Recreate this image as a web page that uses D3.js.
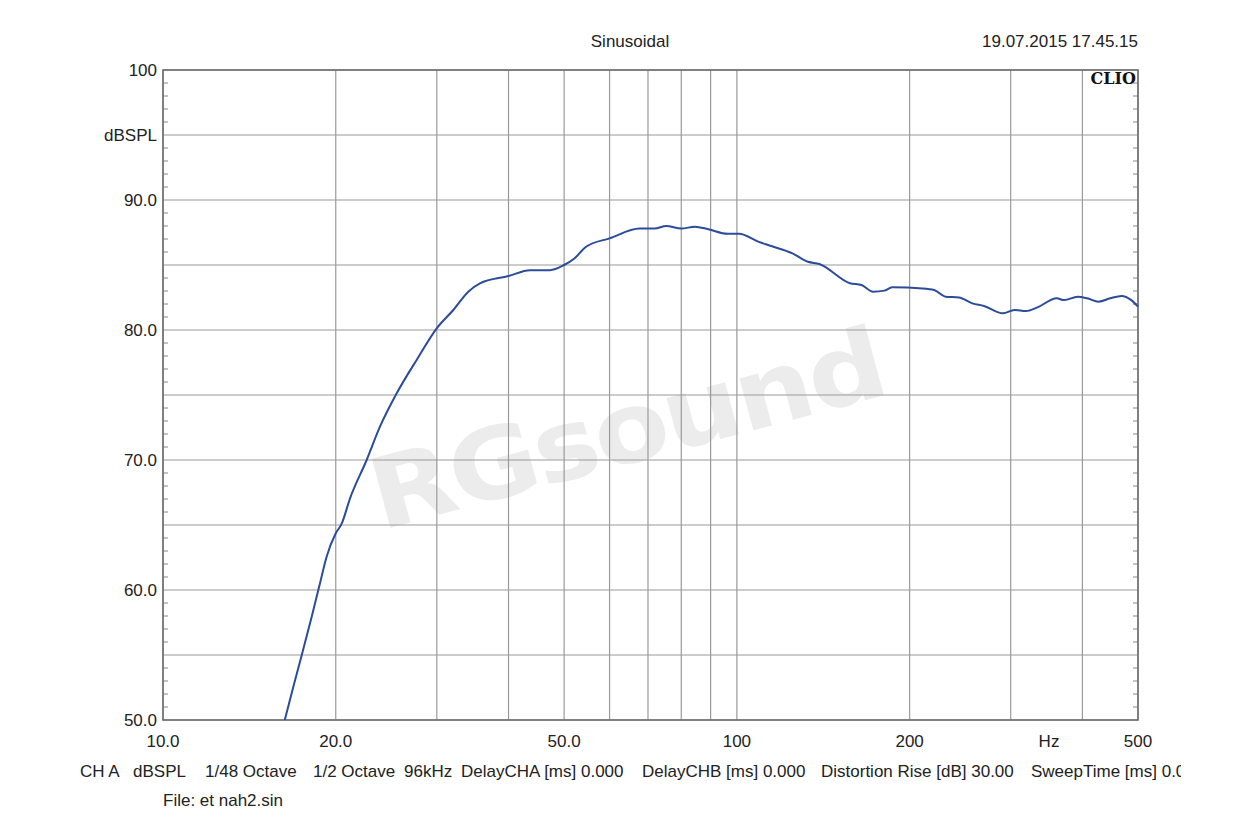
<!DOCTYPE html>
<html><head><meta charset="utf-8">
<script src="https://cdn.jsdelivr.net/npm/d3@7"></script>
<style>
body{margin:0;background:#fff;}
svg text{font-family:"Liberation Sans",Arial,sans-serif;fill:#222;}
</style></head>
<body>
<svg id="c" width="1260" height="840"></svg>
<script>
// ---- data ----
const freqs = [16.3,16.87,17.45,18.16,18.77,19.28,20.0,20.48,21.18,22.64,23.88,25.54,27.67,29.99,32.05,34.04,35.67,40.0,43.6,47.25,50,52.1,54.6,60,67.7,71.9,75.3,80,84.5,89.2,96.3,100.9,108.9,114,125,133,139.2,157.4,164.9,172.7,180.7,186.4,210.8,220.7,231.1,243.8,257.3,269.5,290.9,304.5,319,334,360.7,372,392.6,407.7,427,447.3,468.3,486.7,500];
const spl = [50.0,52.56,55.0,57.95,60.5,62.56,64.36,65.1,67.05,70.0,72.56,75.13,77.7,80.13,81.54,82.95,83.59,84.15,84.6,84.6,85.0,85.5,86.4,87.05,87.8,87.8,88.0,87.8,87.95,87.75,87.4,87.4,86.8,86.5,85.9,85.25,85.08,83.6,83.46,82.95,83.03,83.28,83.2,83.08,82.56,82.5,82.05,81.85,81.28,81.54,81.46,81.74,82.44,82.3,82.56,82.44,82.18,82.44,82.62,82.3,81.8];
const xGrid = [10,20,30,40,50,60,70,80,90,100,200,300,400,500];
const xTickVals = [10,20,50,100,200,500];
const xTickLabels = ["10.0","20.0","50.0","100","200","500"];
const yGrid = [50,55,60,65,70,75,80,85,90,95,100];
const yTickVals = [100,95,90,80,70,60,50];
const yTickLabels = ["100","dBSPL","90.0","80.0","70.0","60.0","50.0"];
const infoTexts = ["CH A","dBSPL","1/48 Octave","1/2 Octave","96kHz","DelayCHA [ms] 0.000","DelayCHB [ms] 0.000","Distortion Rise [dB] 30.00","SweepTime [ms] 0.000"];
const infoX = [80,133,205,313,404,461,642,821,1031];

// ---- layout ----
const L=163,R=1138,T=70,B=720;
const svg=d3.select("#c");
const x=d3.scaleLog().domain([10,500]).range([L,R]);
const y=d3.scaleLinear().domain([50,100]).range([B,T]);

// watermark
svg.append("text").attr("x",0).attr("y",0)
  .attr("transform","translate(635,462) rotate(-15) scale(1.12,1)")
  .attr("text-anchor","middle")
  .style("font-family","'DejaVu Sans',sans-serif").style("font-weight","bold")
  .style("font-size","98px").style("fill","#ececec").style("letter-spacing","-3px")
  .text("RGsound");

// grid
svg.append("g").selectAll("line").data(xGrid).join("line")
  .attr("x1",d=>x(d)).attr("x2",d=>x(d)).attr("y1",T).attr("y2",B)
  .attr("stroke","#9a9a9a").attr("stroke-width",1.2);
svg.append("g").selectAll("line").data(yGrid).join("line")
  .attr("x1",L).attr("x2",R).attr("y1",d=>y(d)).attr("y2",d=>y(d))
  .attr("stroke","#9a9a9a").attr("stroke-width",1.2);

// minor ticks (inside, every 1 dB)
const minor=d3.range(50,101).filter(d=>d%5!==0);
svg.append("g").selectAll("line").data(minor).join("line")
  .attr("x1",L).attr("x2",L+5).attr("y1",d=>y(d)).attr("y2",d=>y(d))
  .attr("stroke","#888").attr("stroke-width",1);
svg.append("g").selectAll("line").data(minor).join("line")
  .attr("x1",R-5).attr("x2",R).attr("y1",d=>y(d)).attr("y2",d=>y(d))
  .attr("stroke","#888").attr("stroke-width",1);

// frame
svg.append("rect").attr("x",L).attr("y",T).attr("width",R-L).attr("height",B-T)
  .attr("fill","none").attr("stroke","#6e6e6e").attr("stroke-width",1.6);

// curve
svg.append("path").datum(freqs.map((f,i)=>[f,spl[i]]))
  .attr("d",d3.line().x(d=>x(d[0])).y(d=>y(d[1])).curve(d3.curveMonotoneX))
  .attr("fill","none").attr("stroke","#2c4b9b").attr("stroke-width",2);

// y labels
svg.append("g").selectAll("text").data(yTickVals).join("text")
  .attr("x",157).attr("y",d=>y(d)+6).attr("text-anchor","end")
  .style("font-size","17px").text((d,i)=>yTickLabels[i]);

// x labels
svg.append("g").selectAll("text").data(xTickVals).join("text")
  .attr("x",d=>x(d)).attr("y",747).attr("text-anchor","middle")
  .style("font-size","17px").text((d,i)=>xTickLabels[i]);
svg.append("text").attr("x",1049).attr("y",747).attr("text-anchor","middle")
  .style("font-size","17px").text("Hz");

// title & date
svg.append("text").attr("x",630).attr("y",47).attr("text-anchor","middle")
  .style("font-size","17px").text("Sinusoidal");
svg.append("text").attr("x",1138).attr("y",47).attr("text-anchor","end")
  .style("font-size","17px").text("19.07.2015 17.45.15");
svg.append("text").attr("x",1136).attr("y",84).attr("text-anchor","end")
  .style("font-family","'DejaVu Serif','Liberation Serif',serif").style("font-weight","bold")
  .style("font-size","16px").style("fill","#111").text("CLIO");

// info line
const clip=svg.append("defs").append("clipPath").attr("id","cl");
clip.append("rect").attr("x",0).attr("y",750).attr("width",1181).attr("height",40);
svg.append("g").attr("clip-path","url(#cl)").selectAll("text").data(infoTexts).join("text")
  .attr("x",(d,i)=>infoX[i]).attr("y",777).style("font-size","17px").text(d=>d);
svg.append("text").attr("x",163).attr("y",806).style("font-size","17px").text("File: et nah2.sin");
</script>
</body></html>
